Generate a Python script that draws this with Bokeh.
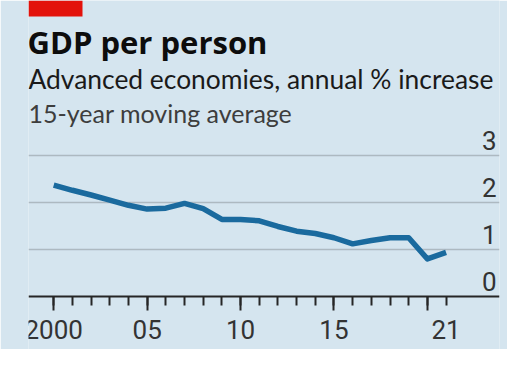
from bokeh.plotting import figure
from bokeh.models import Range1d, FixedTicker, Grid, Label, ColumnDataSource, LinearAxis
from bokeh.core.properties import value
from bokeh.embed import file_html
from bokeh.resources import INLINE

# ---- data ----
years = list(range(2000, 2022))
gdp_growth = [2.37, 2.26, 2.16, 2.05, 1.94, 1.86, 1.88, 1.98, 1.87, 1.64, 1.64,
              1.61, 1.49, 1.39, 1.34, 1.25, 1.12, 1.19, 1.25, 1.25, 0.80, 0.94]
y_ticks = [0, 1, 2, 3]
y_tick_labels = ["0", "1", "2", "3"]
x_major = [2000, 2005, 2010, 2015, 2020]
x_major_labels = {2000: "2000", 2005: "05", 2010: "10", 2015: "15", 2020: ""}
x_extra_ticks = [2021]
x_extra_labels = {2021: "21"}

title = "GDP per person"
subtitle = "Advanced economies, annual % increase"
subtitle2 = "15-year moving average"

# ---- styling / layout ----
BG = "#d5e5ef"
LINE = "#1a6a9e"
GRID = "#adb9c1"
AXIS = "#262626"
TICK_TXT = "#333333"
W, H = 507, 349
LEFT, RIGHT = 28, 8
FW, FH = W - LEFT - RIGHT, H
PX_PER_UNIT = 47.0
ZERO_PX = 296  # pixel row (from top) of value 0
X0, X1 = 1998.65, 2023.86
Y0 = -(FH - ZERO_PX) / PX_PER_UNIT
Y1 = ZERO_PX / PX_PER_UNIT
TICK_FONT = "Roboto"
TICK_SIZE = "26px"
TEXT_FONT = "Lato"


def fx(px):
    return X0 + px * (X1 - X0) / FW


def fy(py):
    return Y1 - py * (Y1 - Y0) / FH


def baseline(py, size):
    # alphabetic baseline correction (renderer places text ~0.36em low)
    return fy(py - 0.36 * size)


p = figure(width=W, height=H, output_backend="svg", toolbar_location=None,
           x_range=Range1d(X0, X1), y_range=Range1d(Y0, Y1),
           x_axis_location=None, y_axis_location=None,
           min_border=0, min_border_left=LEFT, min_border_right=RIGHT,
           min_border_top=0, min_border_bottom=0)
p.background_fill_color = BG
p.border_fill_color = BG
p.outline_line_color = None
p.xgrid.visible = False
p.ygrid.visible = False

p.add_layout(Grid(dimension=1, ticker=FixedTicker(ticks=y_ticks[1:]),
                  grid_line_color=GRID, grid_line_width=1.6))


def style_axis(ax):
    ax.major_tick_in = 0
    ax.minor_tick_in = 0
    ax.major_tick_out = 14
    ax.major_label_text_font = TICK_FONT
    ax.major_label_text_font_size = TICK_SIZE
    ax.major_label_text_color = TICK_TXT
    ax.major_label_standoff = 9


xaxis = LinearAxis(ticker=FixedTicker(ticks=x_major, minor_ticks=years),
                   major_label_overrides=x_major_labels, fixed_location=0)
style_axis(xaxis)
xaxis.axis_line_color = AXIS
xaxis.axis_line_width = 2
xaxis.major_tick_line_color = AXIS
xaxis.major_tick_line_width = 2
xaxis.minor_tick_line_color = AXIS
xaxis.minor_tick_line_width = 2
xaxis.minor_tick_out = 9
p.add_layout(xaxis, "below")

xaxis2 = LinearAxis(ticker=FixedTicker(ticks=x_extra_ticks, minor_ticks=[]),
                    major_label_overrides=x_extra_labels, fixed_location=0)
style_axis(xaxis2)
xaxis2.axis_line_color = None
xaxis2.major_tick_line_color = None
xaxis2.minor_tick_line_color = None
p.add_layout(xaxis2, "below")

# y tick labels inside plot, above the grid lines
ysrc = ColumnDataSource(dict(x=[X1] * len(y_ticks), y=y_ticks, t=y_tick_labels))
p.text(x="x", y="y", text="t", source=ysrc, text_align="right",
       text_baseline="alphabetic", x_offset=-3, y_offset=-6 - 0.36 * 26,
       text_font=value(TICK_FONT), text_font_size=TICK_SIZE, text_color=TICK_TXT)

# data line
p.line(years, gdp_growth, line_color=LINE, line_width=5.5, line_join="round")

# red tag
p.quad(left=[fx(0)], right=[fx(54)], top=[fy(0)], bottom=[fy(16)],
       fill_color="#e3120b", line_color=None)

# titles
p.add_layout(Label(x=fx(-1), y=baseline(53, 31), text=title, text_baseline="alphabetic",
                   text_font="Open Sans", text_font_style="bold",
                   text_font_size="31px", text_color="#0d0d0d"))
p.add_layout(Label(x=fx(0), y=baseline(88, 26.4), text=subtitle, text_baseline="alphabetic",
                   text_font=TEXT_FONT, text_font_size="26.4px", text_color="#1a1a1a"))
p.add_layout(Label(x=fx(0), y=baseline(121, 25), text=subtitle2, text_baseline="alphabetic",
                   text_font=TEXT_FONT, text_font_size="25px", text_color="#3d3d3d"))

open("out.html", "w").write(file_html(p, INLINE))
